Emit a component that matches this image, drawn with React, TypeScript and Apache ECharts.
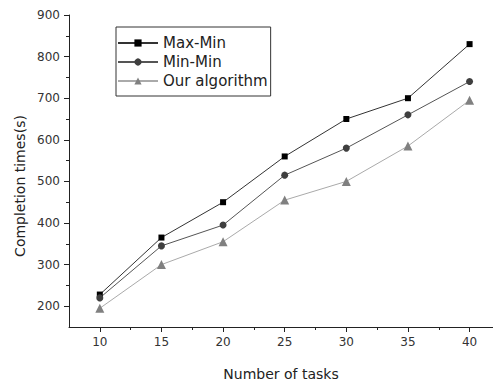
import React, { useEffect, useRef } from "react";
import * as echarts from "echarts";

const tasks = [10, 15, 20, 25, 30, 35, 40];
const maxMin = [228, 365, 450, 560, 650, 700, 830];
const minMin = [220, 345, 395, 515, 580, 660, 740];
const ourAlg = [195, 300, 355, 455, 500, 585, 695];
const xMajorTicks = [10, 15, 20, 25, 30, 35, 40];
const xMinorTicks = [12.5, 17.5, 22.5, 27.5, 32.5, 37.5];
const yMajorTicks = [200, 300, 400, 500, 600, 700, 800, 900];
const yMinorTicks = [250, 350, 450, 550, 650, 750, 850];

const FONT = "DejaVu Sans, Liberation Sans, Arial, sans-serif";

export default function App() {
  const ref = useRef<HTMLDivElement>(null);
  useEffect(() => {
    if (!ref.current) return;
    const chart = echarts.init(ref.current, null, { renderer: "svg" });
    const pairs = (vals: number[]) => tasks.map((t, i) => [t, vals[i]]);
    const xBase = { type: "value", min: 7.5, max: 41.9, splitLine: { show: false } };
    const yBase = { type: "value", min: 150, max: 900, splitLine: { show: false } };
    chart.setOption({
      animation: false,
      backgroundColor: "#ffffff",
      grid: { left: 69, top: 15, right: 0, bottom: 50 },
      legend: {
        orient: "vertical",
        left: 116,
        top: 27,
        padding: [8, 3, 7, 1],
        borderColor: "#333",
        borderWidth: 1,
        itemWidth: 40,
        itemHeight: 9,
        itemGap: 3,
        textStyle: { fontFamily: FONT, fontSize: 15, color: "#222", lineHeight: 16 },
        data: ["Max-Min", "Min-Min", "Our algorithm"],
      },
      xAxis: [
        {
          ...xBase,
          name: "Number of tasks",
          nameLocation: "middle",
          nameGap: 40,
          nameTextStyle: { fontFamily: FONT, fontSize: 14, color: "#222" },
          axisLine: { show: true, lineStyle: { color: "#222", width: 1 } },
          axisTick: { show: true, inside: false, length: 5, customValues: xMajorTicks, lineStyle: { color: "#222" } },
          axisLabel: { customValues: xMajorTicks, margin: 9, fontFamily: FONT, fontSize: 12, color: "#333" },
        },
        {
          ...xBase,
          position: "bottom",
          axisLine: { show: false },
          axisTick: { show: true, inside: false, length: 3, customValues: xMinorTicks, lineStyle: { color: "#222" } },
          axisLabel: { show: false },
        },
      ],
      yAxis: [
        {
          ...yBase,
          axisLine: { show: true, lineStyle: { color: "#222", width: 1 } },
          axisTick: { show: true, inside: false, length: 5, customValues: yMajorTicks, lineStyle: { color: "#222" } },
          axisLabel: { customValues: yMajorTicks, margin: 9, fontFamily: FONT, fontSize: 12, color: "#333" },
        },
        {
          ...yBase,
          position: "left",
          axisLine: { show: false },
          axisTick: { show: true, inside: false, length: 3, customValues: yMinorTicks, lineStyle: { color: "#222" } },
          axisLabel: { show: false },
        },
      ],
      graphic: [
        {
          type: "text",
          x: 20,
          y: 186,
          rotation: Math.PI / 2,
          style: {
            text: "Completion times(s)",
            fontFamily: FONT,
            fontSize: 14,
            fill: "#222",
            align: "center",
            verticalAlign: "middle",
          },
        },
      ],
      series: [
        {
          name: "Max-Min",
          type: "line",
          data: pairs(maxMin),
          symbol: "rect",
          symbolSize: 6,
          lineStyle: { color: "#333", width: 1 },
          itemStyle: { color: "#000" },
        },
        {
          name: "Min-Min",
          type: "line",
          data: pairs(minMin),
          symbol: "circle",
          symbolSize: 7,
          lineStyle: { color: "#555", width: 1 },
          itemStyle: { color: "#3f3f3f" },
        },
        {
          name: "Our algorithm",
          type: "line",
          data: pairs(ourAlg),
          symbol: "triangle",
          symbolSize: 9,
          lineStyle: { color: "#aaa", width: 1 },
          itemStyle: { color: "#808080" },
        },
      ],
    });
    return () => chart.dispose();
  }, []);
  return (
    <div
      ref={ref}
      style={{ position: "fixed", left: 0, top: 0, width: 493, height: 386, background: "#fff" }}
    />
  );
}
